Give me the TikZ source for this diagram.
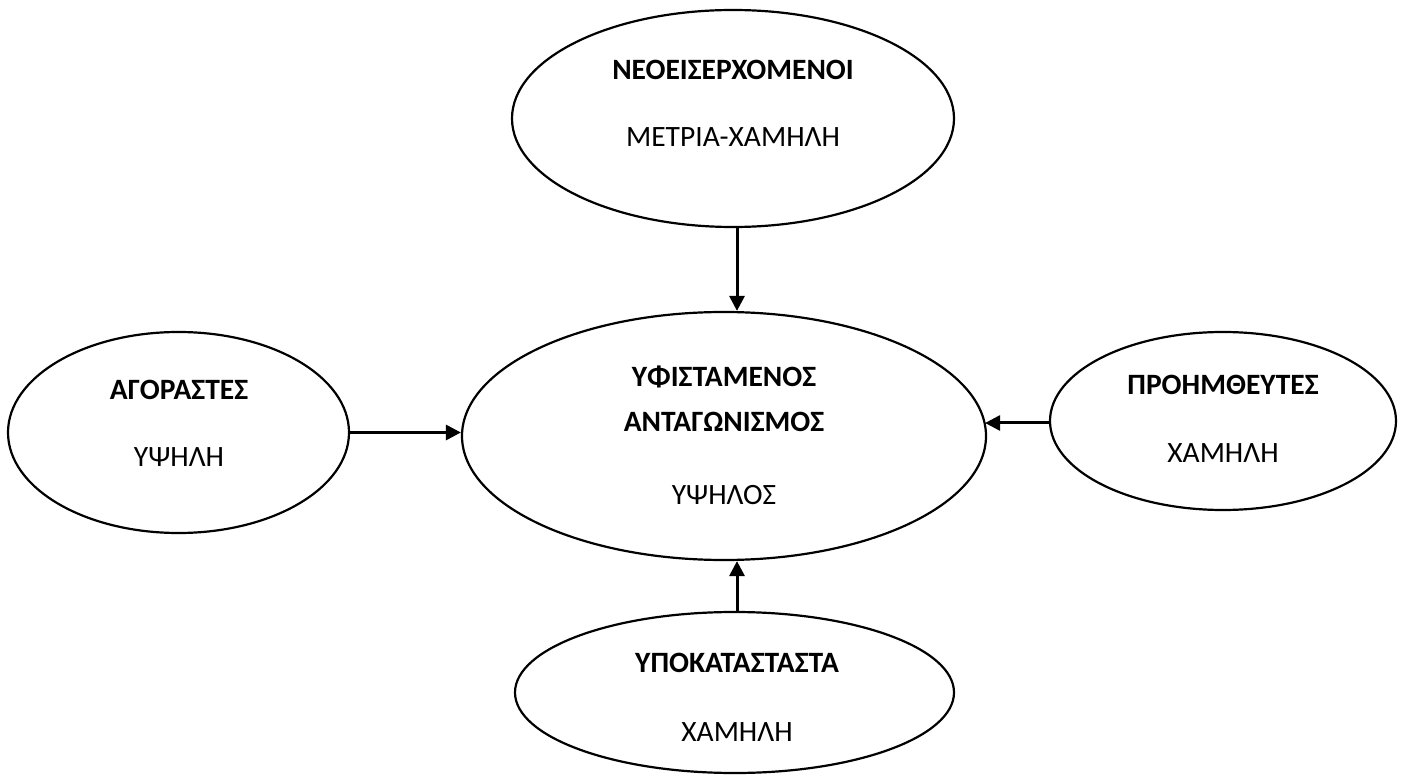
\documentclass[tikz,border=0pt]{standalone}
\usepackage{fontspec}
\setmainfont{Carlito}
\usetikzlibrary{arrows.meta,shapes.geometric}
\begin{document}
\begin{tikzpicture}[x=1pt,y=-1pt,
  oval/.style={draw,line width=2.2pt,ellipse,inner sep=0pt},
  lbl/.style={anchor=base,inner sep=0pt,font=\fontsize{29.5}{35}\selectfont},
  blbl/.style={lbl,font=\fontsize{29.5}{35}\selectfont\bfseries},
  arr/.style={line width=3pt,-{Triangle[length=15pt,width=15pt]}}]
\useasboundingbox (0,0) rectangle (1403,775);
\node[oval,minimum width=442pt,minimum height=217pt] (top) at (733,118.5) {};
\node[oval,minimum width=524pt,minimum height=248pt] (mid) at (724,436) {};
\node[oval,minimum width=341pt,minimum height=201pt] (lft) at (178.5,432.5) {};
\node[oval,minimum width=346pt,minimum height=178pt] (rgt) at (1223,421) {};
\node[oval,minimum width=439pt,minimum height=161pt] (bot) at (734.5,692.5) {};
\node[blbl] (t1) at (733,79.5) {ΝΕΟΕΙΣΕΡΧΟΜΕΝΟΙ};
\node[lbl] (t2) at (733,146.5) {ΜΕΤΡΙΑ-ΧΑΜΗΛΗ};
\node[blbl] (m1) at (724,386.5) {ΥΦΙΣΤΑΜΕΝΟΣ};
\node[blbl] (m2) at (724,431.5) {ΑΝΤΑΓΩΝΙΣΜΟΣ};
\node[lbl] (m3) at (724,504.5) {ΥΨΗΛΟΣ};
\node[blbl] (l1) at (179,399.5) {ΑΓΟΡΑΣΤΕΣ};
\node[lbl] (l2) at (179,466.5) {ΥΨΗΛΗ};
\node[blbl] (r1) at (1223,394.5) {ΠΡΟΗΜΘΕΥΤΕΣ};
\node[lbl] (r2) at (1223,462.5) {ΧΑΜΗΛΗ};
\node[blbl] (b1) at (737,672.5) {ΥΠΟΚΑΤΑΣΤΑΣΤΑ};
\node[lbl] (b2) at (737,741.5) {ΧΑΜΗΛΗ};
\coordinate (tA) at ([xshift=4pt]top.south);
\coordinate (bA) at ([xshift=2.5pt]bot.north);
\coordinate (rA) at ([yshift=-2pt]rgt.west);
\draw[arr] (tA) -- (tA |- mid.north);
\draw[arr] (bA) -- (bA |- mid.south);
\draw[arr] (lft.east) -- (lft.east -| mid.west);
\draw[arr] (rA) -- ([xshift=-2pt]rA -| mid.east);
\end{tikzpicture}
\end{document}
